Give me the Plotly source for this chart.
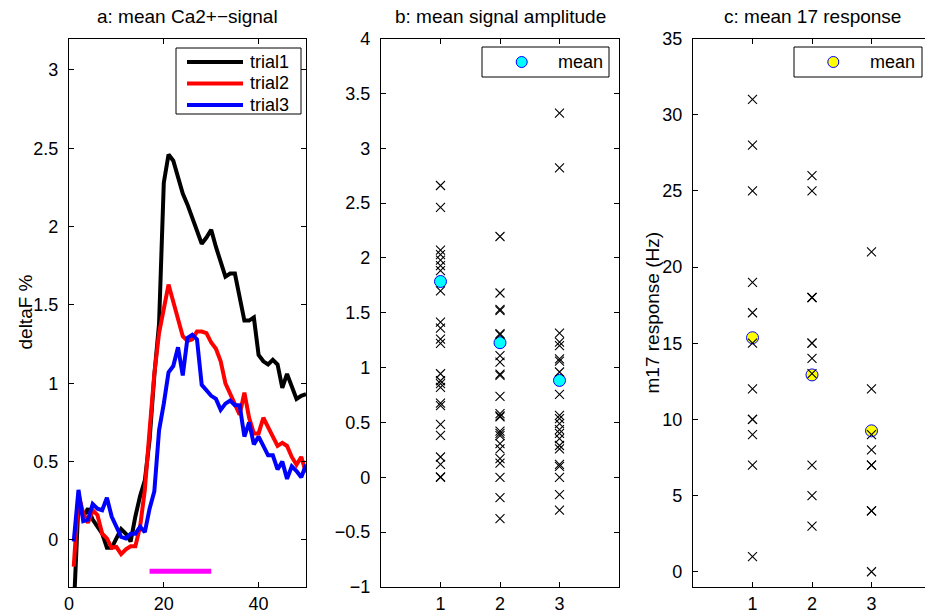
import plotly.graph_objects as go

# ---------------- data ----------------
frames = list(range(1, 51))
trial1 = [-0.45, 0.24, 0.15, 0.20, 0.13, 0.09, 0.04, -0.05, -0.05, 0.01,
          0.07, 0.04, -0.01, 0.15, 0.28, 0.38, 0.64, 1.05, 1.38, 2.28,
          2.46, 2.42, 2.32, 2.21, 2.14, 2.05, 1.97, 1.89, 1.93, 1.98,
          1.87, 1.78, 1.68, 1.70, 1.70, 1.55, 1.40, 1.40, 1.42, 1.18,
          1.14, 1.12, 1.15, 1.12, 0.97, 1.06, 0.97, 0.90, 0.92, 0.93]
trial2 = [-0.17, 0.29, 0.17, 0.11, 0.19, 0.16, 0.04, 0.01, -0.05, -0.045,
          -0.09, -0.06, -0.04, -0.04, 0.085, 0.32, 0.70, 1.06, 1.32, 1.48,
          1.63, 1.52, 1.40, 1.30, 1.27, 1.28, 1.33, 1.33, 1.32, 1.26,
          1.22, 1.14, 1.00, 0.93, 0.87, 0.80, 0.94, 0.78, 0.68, 0.68,
          0.78, 0.72, 0.66, 0.60, 0.62, 0.60, 0.53, 0.48, 0.53, 0.43]
trial3 = [-0.01, 0.32, 0.12, 0.13, 0.23, 0.20, 0.19, 0.27, 0.15, 0.08,
          0.02, 0.01, 0.04, 0.04, 0.085, 0.05, 0.20, 0.31, 0.70, 0.87,
          1.07, 1.11, 1.23, 1.05, 1.29, 1.31, 1.28, 0.99, 0.95, 0.92,
          0.90, 0.83, 0.87, 0.89, 0.86, 0.86, 0.66, 0.75, 0.61, 0.66,
          0.60, 0.54, 0.54, 0.45, 0.50, 0.39, 0.47, 0.44, 0.40, 0.48]
trial_names = ["trial1", "trial2", "trial3"]
trial_colors = ["#000000", "#ff0000", "#0000ff"]
stim_window = [17, 30]
stim_level = [-0.2, -0.2]

amp_cond1 = [2.66, 2.46, 2.07, 2.03, 1.98, 1.93, 1.885, 1.70, 1.415, 1.36, 1.26, 1.22,
             0.944, 0.88, 0.853, 0.82, 0.677, 0.653, 0.483, 0.383, 0.185, 0.118, 0.003, 0.0]
amp_cond2 = [2.195, 1.68, 1.53, 1.52, 1.31, 1.30, 1.11, 1.05, 0.94, 0.93, 0.738, 0.58,
             0.56, 0.55, 0.42, 0.40, 0.38, 0.307, 0.26, 0.17, 0.13, 0.0, -0.185, -0.376]
amp_cond3 = [3.32, 2.82, 1.314, 1.232, 1.20, 1.08, 1.06, 0.96, 0.756, 0.565, 0.535,
             0.49, 0.434, 0.40, 0.352, 0.29, 0.26, 0.118, 0.10, 0.0, -0.158, -0.30]
amp_means = [1.785, 1.227, 0.883]

resp_cond1 = [31, 28, 25, 19, 17, 15, 12, 10, 10, 9, 7, 1]
resp_cond2 = [26, 25, 18, 18, 15, 15, 14, 13, 7, 5, 3]
resp_cond3 = [21, 12, 9, 8, 7, 7, 4, 4, 0]
resp_means = [15.36, 12.92, 9.25]

conditions = [1, 2, 3]

# ---------------- figure ----------------
W, H = 925, 615
FONT = "Liberation Sans, Arial, Helvetica, sans-serif"
FS = 18
FT = 19


def px(x):
    return x / W


def py(y):
    return 1 - y / H


fig = go.Figure()

for name, vals, col in zip(trial_names, [trial1, trial2, trial3], trial_colors):
    fig.add_trace(go.Scatter(x=frames, y=vals, mode="lines", name=name,
                             line=dict(color=col, width=4), showlegend=False,
                             xaxis="x", yaxis="y"))
fig.add_trace(go.Scatter(x=stim_window, y=stim_level, mode="lines",
                         line=dict(color="#ff00ff", width=5), showlegend=False,
                         xaxis="x", yaxis="y"))

cross = dict(symbol="x-thin", size=9, color="black",
             line=dict(color="black", width=1.1))

# panel b
fig.add_trace(go.Scatter(x=conditions, y=amp_means, mode="markers", name="mean",
                         marker=dict(symbol="circle", size=12, color="#00ffff",
                                     line=dict(color="#0000ff", width=1)),
                         showlegend=False, xaxis="x2", yaxis="y2"))
for c, vals in zip(conditions, [amp_cond1, amp_cond2, amp_cond3]):
    fig.add_trace(go.Scatter(x=[c] * len(vals), y=vals, mode="markers",
                             marker=cross, showlegend=False,
                             xaxis="x2", yaxis="y2"))

# panel c
fig.add_trace(go.Scatter(x=conditions, y=resp_means, mode="markers", name="mean",
                         marker=dict(symbol="circle", size=12, color="#ffff00",
                                     line=dict(color="#0000ff", width=1)),
                         showlegend=False, xaxis="x3", yaxis="y3"))
for c, vals in zip(conditions, [resp_cond1, resp_cond2, resp_cond3]):
    fig.add_trace(go.Scatter(x=[c] * len(vals), y=vals, mode="markers",
                             marker=cross, showlegend=False,
                             xaxis="x3", yaxis="y3"))

ax = dict(showline=True, linecolor="black", linewidth=1.2, ticks="inside",
          ticklen=5, tickwidth=1, tickcolor="black", mirror="ticks",
          showgrid=False, zeroline=False, automargin=False,
          tickfont=dict(family=FONT, size=FS, color="black"))

ydom = [py(587), py(38.5)]

# ---- legends drawn as boxes, line/marker samples and text ----
shapes = []
annotations = []

# legend a
shapes.append(dict(type="rect", xref="paper", yref="paper",
                   x0=px(176), x1=px(301), y0=py(114), y1=py(48),
                   line=dict(color="black", width=1), fillcolor="white",
                   layer="above"))
for i, (name, col) in enumerate(zip(trial_names, trial_colors)):
    yy = 62 + i * 21.5
    shapes.append(dict(type="line", xref="paper", yref="paper",
                       x0=px(187), x1=px(243), y0=py(yy), y1=py(yy),
                       line=dict(color=col, width=4), layer="above"))
    annotations.append(dict(text=name, x=px(248), y=py(yy), xref="paper",
                            yref="paper", showarrow=False, xanchor="left",
                            yanchor="middle", font=dict(size=FS)))

# legends b and c
for (bx0, bx1, mx, tx, fill) in [(482, 609, 521.7, 555.7, "#00ffff"),
                                 (794, 922, 833.3, 868.3, "#ffff00")]:
    shapes.append(dict(type="rect", xref="paper", yref="paper",
                       x0=px(bx0), x1=px(bx1), y0=py(77), y1=py(47),
                       line=dict(color="black", width=1), fillcolor="white",
                       layer="above"))
    shapes.append(dict(type="circle", xref="paper", yref="paper",
                       x0=px(mx - 5.5), x1=px(mx + 5.5), y0=py(62 + 5.5),
                       y1=py(62 - 5.5), line=dict(color="#0000ff", width=1),
                       fillcolor=fill, layer="above"))
    annotations.append(dict(text="mean", x=px(tx), y=py(62), xref="paper",
                            yref="paper", showarrow=False, xanchor="left",
                            yanchor="middle", font=dict(size=FS)))

annotations += [
    dict(text="a: mean Ca2+\u2212signal", x=px(187.5), y=py(17),
         xref="paper", yref="paper", showarrow=False, xanchor="center",
         yanchor="middle", font=dict(size=FT)),
    dict(text="b: mean signal amplitude", x=px(500), y=py(17),
         xref="paper", yref="paper", showarrow=False, xanchor="center",
         yanchor="middle", font=dict(size=FT)),
    dict(text="c: mean 17 response", x=px(812), y=py(17),
         xref="paper", yref="paper", showarrow=False, xanchor="center",
         yanchor="middle", font=dict(size=FT)),
    dict(text="deltaF %", x=px(25), y=py(312.5), xref="paper",
         yref="paper", showarrow=False, textangle=-90, xanchor="center",
         yanchor="middle", font=dict(size=FT)),
    dict(text="m17 response (Hz)", x=px(652), y=py(312.5), xref="paper",
         yref="paper", showarrow=False, textangle=-90, xanchor="center",
         yanchor="middle", font=dict(size=FT)),
]

fig.update_layout(
    width=W, height=H,
    margin=dict(l=0, r=0, t=0, b=0, autoexpand=False),
    paper_bgcolor="white", plot_bgcolor="white",
    font=dict(family=FONT, size=FS, color="black"),
    showlegend=False,
    xaxis=dict(ax, domain=[px(69), px(306)], range=[0, 50], tick0=0, dtick=20,
               anchor="y", ticklabelstandoff=0),
    yaxis=dict(ax, domain=ydom, range=[-0.3, 3.2], tick0=0, dtick=0.5,
               anchor="x", ticklabelstandoff=6),
    xaxis2=dict(ax, domain=[px(381), px(619)], range=[0, 4],
                tickvals=conditions, anchor="y2", ticklabelstandoff=0),
    yaxis2=dict(ax, domain=ydom, range=[-1, 4], tick0=-1, dtick=0.5,
                anchor="x2", ticklabelstandoff=6),
    xaxis3=dict(ax, domain=[px(693), 1.0], range=[0, (W - 693) / 59.5],
                tickvals=conditions, anchor="y3", ticklabelstandoff=0),
    yaxis3=dict(ax, domain=ydom, range=[-1, 35], tick0=0, dtick=5,
                anchor="x3", mirror=False, ticklabelstandoff=6),
    shapes=shapes,
    annotations=annotations,
)

fig.write_html("out.html")
